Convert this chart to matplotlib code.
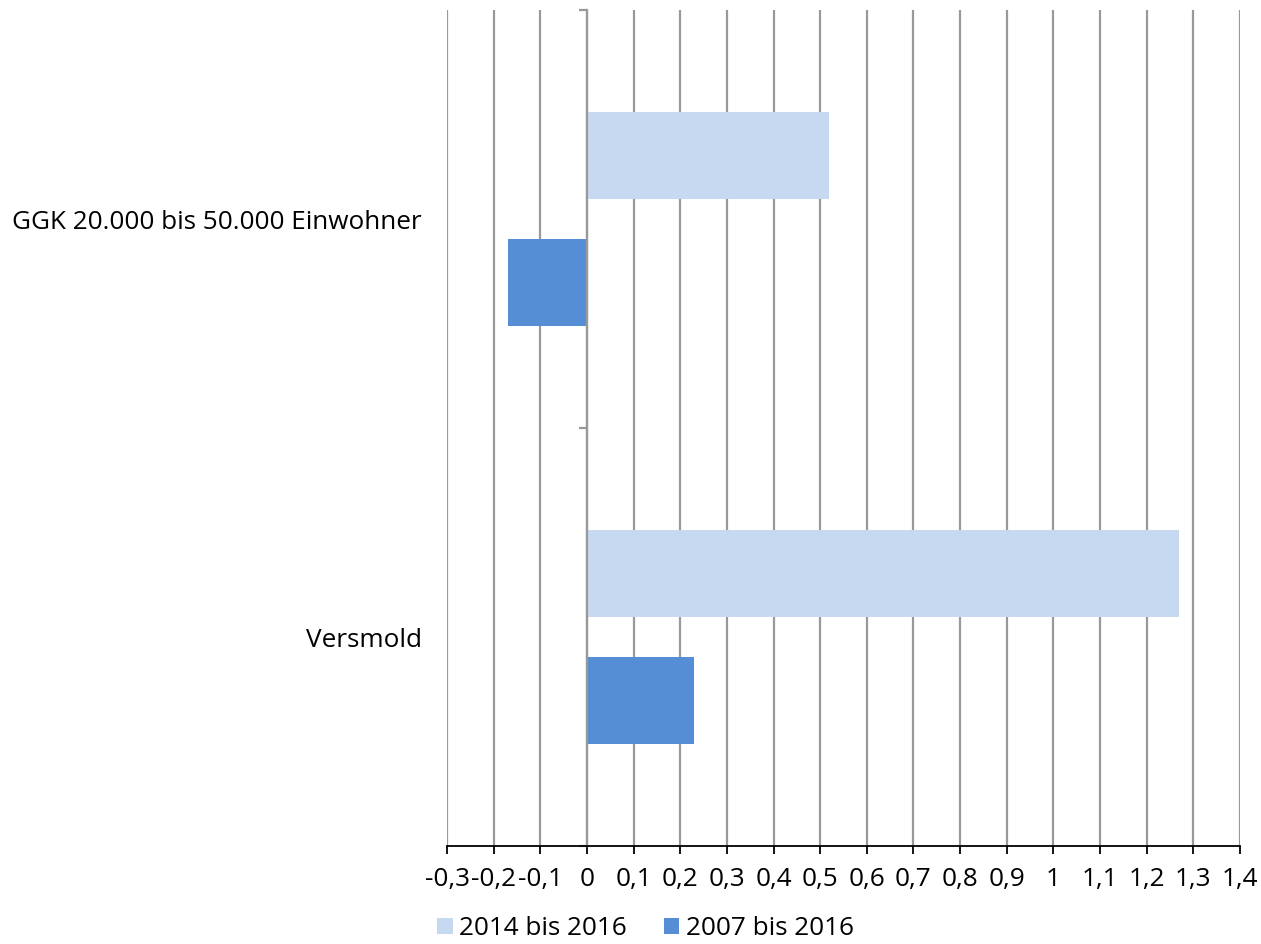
import numpy as np
import matplotlib
matplotlib.use('Agg')
import matplotlib.pyplot as plt

categories = ['Versmold', 'GGK 20.000 bis 50.000 Einwohner']
series_names = ['2014 bis 2016', '2007 bis 2016']
values_2014 = [1.27, 0.52]
values_2007 = [0.23, -0.17]
xticks = [-0.3, -0.2, -0.1, 0, 0.1, 0.2, 0.3, 0.4, 0.5, 0.6, 0.7, 0.8, 0.9, 1.0, 1.1, 1.2, 1.3, 1.4]

light = '#c6d9f1'
dark = '#558ed5'
grid_col = '#999999'
fs = 18.8

plt.rcParams['font.family'] = ['Open Sans', 'DejaVu Sans']

fig = plt.figure(figsize=(12.61, 9.44), dpi=100)
ax = fig.add_axes([0.3545, 0.1038, 0.6288, 0.8856])

pos = np.arange(len(categories)) + 0.5
h = 0.206
ax.barh(pos + 0.152, values_2014, h, color=light, label=series_names[0], zorder=3)
ax.barh(pos - 0.152, values_2007, h, color=dark, label=series_names[1], zorder=3)

ax.set_xlim(-0.3, 1.4)
ax.set_ylim(0, 2)
ax.set_xticks(xticks)
ax.set_xticklabels([('%g' % t).replace('.', ',') for t in xticks], fontsize=fs)
ax.xaxis.grid(True, color=grid_col, linewidth=1.6, zorder=0)
ax.tick_params(axis='x', direction='out', length=6, width=1.3, color='black', pad=9)

ax.spines['left'].set_position(('data', 0))
ax.spines['left'].set_color(grid_col)
ax.spines['left'].set_linewidth(1.6)
ax.spines['left'].set_zorder(4)
ax.spines['top'].set_visible(False)
ax.spines['right'].set_visible(False)
ax.spines['bottom'].set_linewidth(1.3)
ax.spines['bottom'].set_zorder(5)

ax.set_yticks([0, 1, 2])
ax.set_yticklabels([])
ax.set_yticks(pos, minor=True)
ax.set_yticklabels(categories, minor=True, fontsize=fs)
ax.tick_params(axis='y', which='major', direction='out', length=6, width=1.6, color=grid_col)
ax.tick_params(axis='y', which='minor', length=0, pad=119)

fig.legend(loc='center', bbox_to_anchor=(0.512, 0.016), ncol=2, frameon=False,
           fontsize=fs, handlelength=0.6, handleheight=0.6, handletextpad=0.25,
           columnspacing=1.4, borderaxespad=0)

fig.savefig('out.png', dpi=100)
